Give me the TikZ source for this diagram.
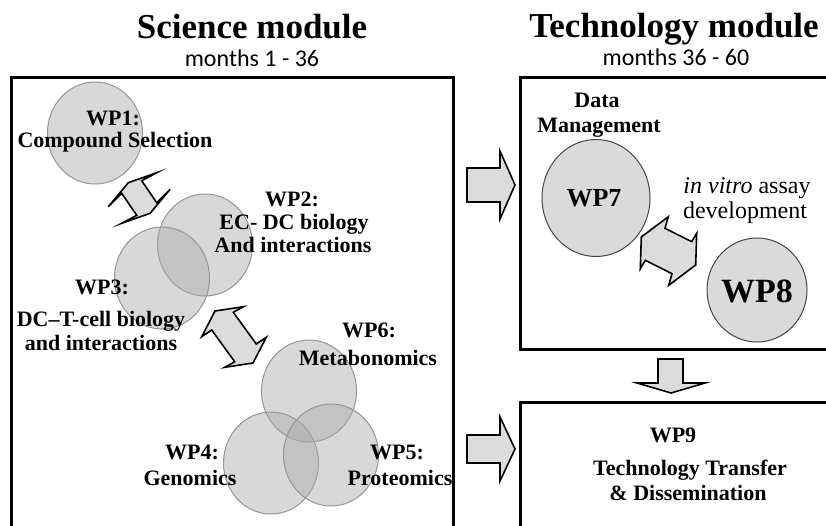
\documentclass[tikz,border=0pt]{standalone}
\usepackage{fontspec}
\setmainfont{Liberation Serif}
\newfontfamily\monthfont{Carlito}
\usetikzlibrary{shapes.geometric}
\begin{document}
\begin{tikzpicture}[x=1pt,y=-1pt,
  box/.style={draw=black, line width=3pt},
  wpc/.style={ellipse, inner sep=0pt, minimum width=95pt, minimum height=102pt,
    fill={rgb,255:red,170;green,170;blue,170}, fill opacity=0.45,
    draw={rgb,255:red,150;green,150;blue,150}, line width=1pt},
  wpr/.style={ellipse, inner sep=0pt,
    fill={rgb,255:red,218;green,218;blue,218},
    draw={rgb,255:red,70;green,70;blue,70}, line width=1pt},
  lab/.style={font=\fontsize{22}{24}\selectfont\bfseries, anchor=base, inner sep=0pt},
  ttl/.style={font=\fontsize{35}{40}\selectfont\bfseries, anchor=base, inner sep=0pt},
  mth/.style={font=\monthfont\fontsize{24}{28}\selectfont, anchor=base, inner sep=0pt},
  blk/.style={fill={rgb,255:red,220;green,220;blue,220}, draw=black, line width=1.6pt, line join=miter, miter limit=20}]
\useasboundingbox (0,0) rectangle (826,525);
\fill[white] (0,0) rectangle (826,525);
\clip (0,0) rectangle (826,525);

% titles
\node[ttl] (t1) at (252,38) {Science module};
\node[mth] (m1) at (252,66) {months 1 - 36};
\node[ttl] (t2) at (674,37) {Technology module};
\node[mth] (m2) at (676,65) {months 36 - 60};

% boxes
\draw[box] (11,77) rectangle (453,560);
\draw[box] (520,77) rectangle (860,349);
\draw[box] (520,402) rectangle (860,560);

% science circles
\node[wpc] (c1) at (95,133) {};
\node[wpc] (c2) at (205,245) {};
\node[wpc] (c3) at (162,278) {};
\node[wpc] (c6) at (309,391) {};
\node[wpc] (c4) at (271,463) {};
\node[wpc] (c5) at (331,455) {};

% technology circles
\node[wpr, minimum width=108pt, minimum height=117pt] (c7) at (596,198) {};
\node[wpr, minimum width=100pt, minimum height=104pt] (c8) at (757,290) {};

% science labels
\node[lab] (l1a) at (113,125) {WP1:};
\node[lab] (l1b) at (115,147) {Compound Selection};
\node[lab] (l2a) at (292,206) {WP2:};
\node[lab] (l2b) at (294,229) {EC- DC biology};
\node[lab] (l2c) at (293,252) {And interactions};
\node[lab] (l3a) at (102,294) {WP3:};
\node[lab] (l3b) at (101,326) {DC–T-cell biology};
\node[lab] (l3c) at (101,350) {and interactions};
\node[lab] (l6a) at (369,337) {WP6:};
\node[lab] (l6b) at (368,365) {Metabonomics};
\node[lab] (l4a) at (192,459) {WP4:};
\node[lab] (l4b) at (190,485) {Genomics};
\node[lab] (l5a) at (397,459) {WP5:};
\node[lab] (l5b) at (400,485) {Proteomics};

% technology labels
\node[lab] (l7a) at (597,107) {Data};
\node[lab] (l7b) at (599,132) {Management};
\node[lab, font=\fontsize{26}{28}\selectfont\bfseries] (l7) at (594,206) {WP7};
\node[anchor=base, inner sep=0pt, font=\fontsize{24}{28}\selectfont] (iv1) at (747,193) {\textit{in vitro} assay};
\node[anchor=base, inner sep=0pt, font=\fontsize{24}{28}\selectfont] (iv2) at (745,218) {development};
\node[lab, font=\fontsize{34}{36}\selectfont\bfseries] (l8) at (757,302) {WP8};
\node[lab] (l9a) at (673,442) {WP9};
\node[lab] (l9b) at (690,475) {Technology Transfer};
\node[lab] (l9c) at (688,500) {\& Dissemination};

% double arrows
\draw[blk] (156.7,172.7) -- (141.7,180.7) -- (156.7,202.7) -- (170.1,189.3) -- (150.1,213.3)
  -- (121.7,223.3) -- (136.7,215.3) -- (121.7,193.3) -- (108.3,206.7) -- (128.3,182.7) -- cycle;
\draw[blk] (243.3,306.7) -- (233.3,312.3) -- (256.3,344) -- (266.3,337.3) -- (253,363)
  -- (224.7,367.3) -- (234.7,361.7) -- (211.7,330) -- (201.7,336.7) -- (215,311) -- cycle;
\draw[blk] (668.3,216.7) -- (665,228.3) -- (691.7,241.7) -- (696.7,233.3) -- (695.7,265)
  -- (668.7,285.3) -- (672,273.7) -- (645.3,260.3) -- (640.3,268.7) -- (641.3,237) -- cycle;

% module arrows
\draw[blk] (467,168) -- (500,168) -- (500,151) -- (515,185) -- (500,219) -- (500,202) -- (467,202) -- cycle;
\draw[blk] (467,435) -- (500,435) -- (500,417) -- (515,449) -- (500,481) -- (500,463) -- (467,463) -- cycle;
\draw[blk] (658,359) -- (683,359) -- (683,383) -- (705,383) -- (671,393) -- (637,383) -- (658,383) -- cycle;
\end{tikzpicture}
\end{document}
